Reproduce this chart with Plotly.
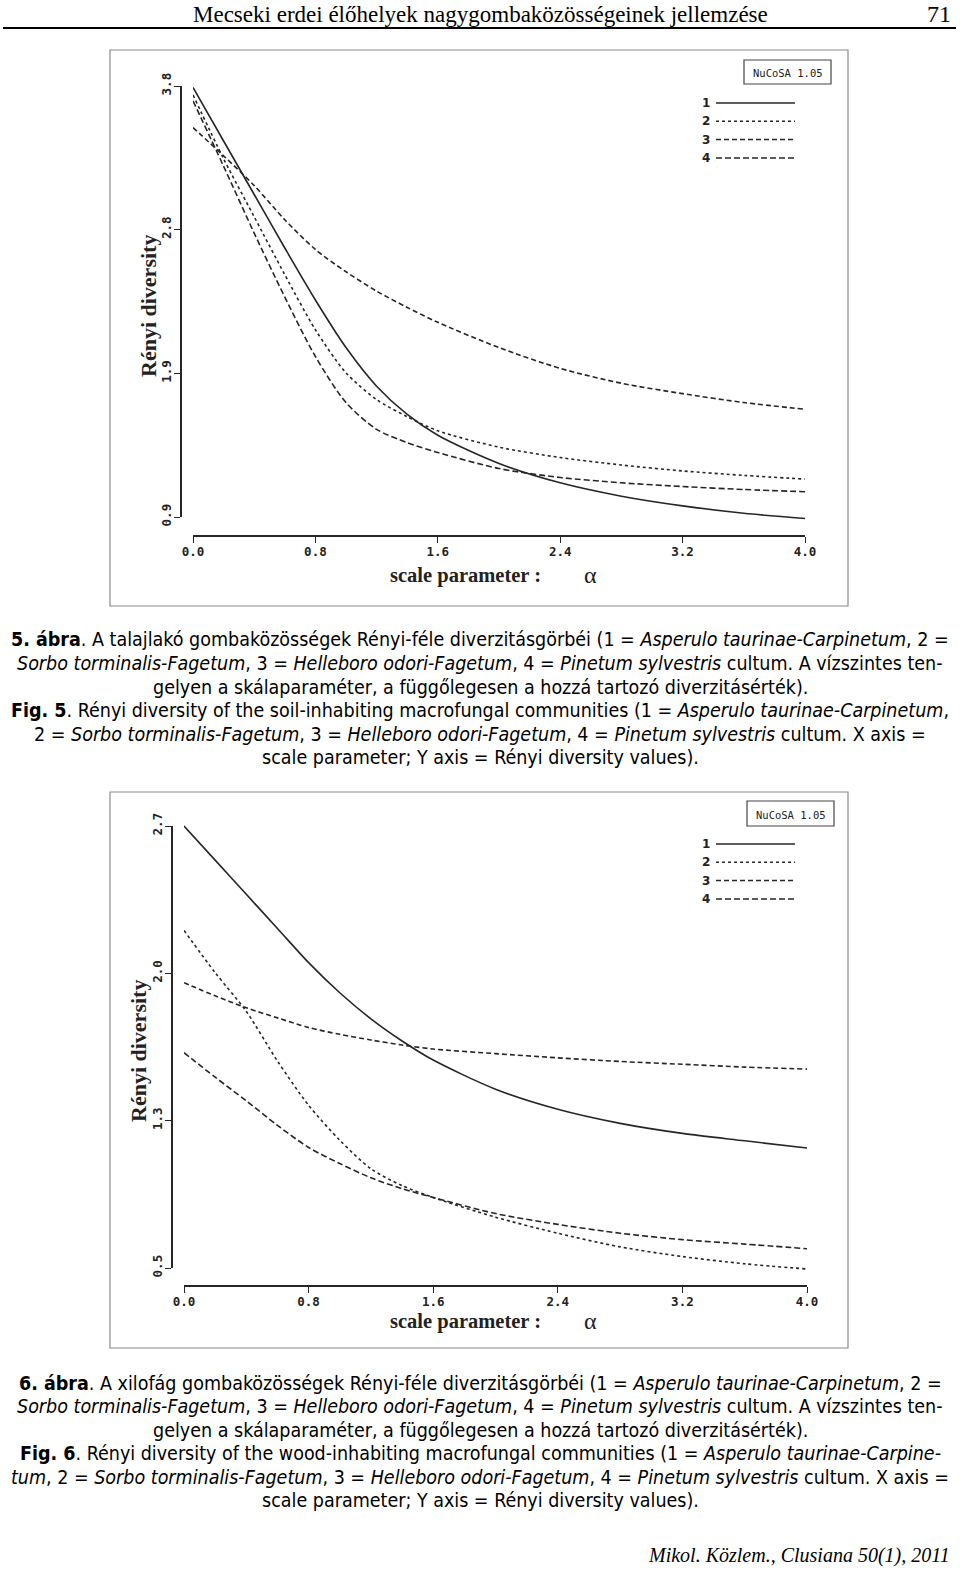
import plotly.graph_objects as go

W, H = 960, 1569

# ---------------- data ----------------
alpha = [0, 0.2, 0.4, 0.6, 0.8, 1.0, 1.2, 1.4, 1.6, 2.0, 2.4, 2.8, 3.2, 3.6, 4.0]

# Fig. 5 (soil-inhabiting)
soil_1 = [3.79, 3.43, 3.07, 2.71, 2.36, 2.04, 1.78, 1.59, 1.45, 1.26, 1.13, 1.04, 0.975, 0.925, 0.89]
soil_2 = [3.74, 3.31, 2.92, 2.53, 2.16, 1.87, 1.69, 1.575, 1.48, 1.37, 1.30, 1.25, 1.21, 1.18, 1.155]
soil_3 = [3.52, 3.33, 3.13, 2.90, 2.70, 2.55, 2.42, 2.31, 2.21, 2.04, 1.90, 1.80, 1.73, 1.67, 1.625]
soil_4 = [3.70, 3.26, 2.81, 2.38, 1.98, 1.67, 1.49, 1.40, 1.334, 1.226, 1.166, 1.13, 1.105, 1.085, 1.07]

# Fig. 6 (wood-inhabiting)
wood_1 = [2.70, 2.53, 2.36, 2.19, 2.02, 1.87, 1.74, 1.63, 1.535, 1.39, 1.29, 1.22, 1.17, 1.133, 1.097]
wood_2 = [2.18, 1.97, 1.777, 1.53, 1.31, 1.136, 0.994, 0.91, 0.851, 0.753, 0.673, 0.605, 0.557, 0.521, 0.495]
wood_3 = [1.92, 1.855, 1.795, 1.745, 1.697, 1.663, 1.635, 1.61, 1.59, 1.567, 1.546, 1.528, 1.514, 1.50, 1.49]
wood_4 = [1.572, 1.45, 1.332, 1.21, 1.10, 1.02, 0.949, 0.895, 0.851, 0.771, 0.717, 0.673, 0.641, 0.619, 0.596]

x_ticks = [0.0, 0.8, 1.6, 2.4, 3.2, 4.0]
x_ticktext = ["0.0", "0.8", "1.6", "2.4", "3.2", "4.0"]
soil_yrange = [0.9, 3.8]
soil_yticktext = ["0.9", "1.9", "2.8", "3.8"]
wood_yrange = [0.5, 2.7]
wood_yticktext = ["0.5", "1.3", "2.0", "2.7"]
series_names = ["1", "2", "3", "4"]
dashes = ["solid", "dot", "5px,3px", "6px,3px"]

# ---------------- helpers ----------------
def fx(p):
    return p / W

def fy(p):
    return 1 - p / H

LINE = "#262626"
annotations = []
shapes = []

def ann(text, x, y, size, family, xanchor="center", yanchor="middle", angle=0, color="#111"):
    annotations.append(dict(text=text, x=fx(x), y=fy(y), xref="paper", yref="paper",
                            xanchor=xanchor, yanchor=yanchor, showarrow=False,
                            textangle=angle, font=dict(size=size, family=family, color=color)))

fig = go.Figure()

TICKFONT = dict(family="DejaVu Sans Mono", size=12.5, color="#222")

def add_chart(idx, series, yrange, ytext, box, xdom, ypx, xline_y, yline_x, legend_y, nucosa, xtitle_y, ytitle):
    n_vis = 2 * idx + 1
    n_dat = 2 * idx + 2
    vis_x = "x" if n_vis == 1 else f"x{n_vis}"
    vis_y = "y" if n_vis == 1 else f"y{n_vis}"
    dat_x = f"x{n_dat}"
    dat_y = f"y{n_dat}"
    lo, hi = yrange
    top_px, bot_px = ypx
    scale = (bot_px - top_px) / (hi - lo)
    ext = 20
    d_hi = hi + ext / scale
    d_lo = lo - ext / scale
    tv = [lo + k * (hi - lo) / 3 for k in range(4)]

    xa = dict(domain=[fx(xdom[0]), fx(xdom[1])], range=[0, 4], anchor="free",
              position=fy(xline_y), showline=True, linecolor=LINE, linewidth=1.6,
              ticks="outside", ticklen=6, tickwidth=1.4, tickcolor=LINE,
              tickvals=x_ticks, ticktext=[f"<b>{t}</b>" for t in x_ticktext],
              ticklabelstandoff=-2,
              tickfont=TICKFONT, showgrid=False, zeroline=False, fixedrange=True, automargin=False)
    ya = dict(domain=[fy(bot_px), fy(top_px)], range=[lo, hi], anchor="free",
              position=fx(yline_x), showline=True, linecolor=LINE, linewidth=1.6,
              ticks="outside", ticklen=6, tickwidth=1.4, tickcolor=LINE,
              tickvals=tv, ticktext=[f"<b>{t}</b>" for t in ytext], tickangle=-90,
              ticklabelstandoff=-2,
              tickfont=TICKFONT, showgrid=False, zeroline=False, fixedrange=True, automargin=False)
    xd = dict(domain=[fx(xdom[0]), fx(xdom[1])], range=[0, 4], anchor=dat_y, visible=False, automargin=False)
    yd = dict(domain=[fy(bot_px + ext), fy(top_px - ext)], range=[d_lo, d_hi], anchor=dat_x,
              visible=False, automargin=False)
    key = lambda a, n: (a + "axis") if n == 1 else f"{a}axis{n}"
    fig.update_layout({key("x", n_vis): xa, key("y", n_vis): ya,
                       key("x", n_dat): xd, key("y", n_dat): yd})
    fig.add_trace(go.Scatter(x=[], y=[], xaxis=vis_x, yaxis=vis_y, showlegend=False, hoverinfo="skip"))
    for name, vals, dash in zip(series_names, series, dashes):
        fig.add_trace(go.Scatter(x=alpha, y=vals, xaxis=dat_x, yaxis=dat_y, mode="lines",
                                 name=name, showlegend=False,
                                 line=dict(color=LINE, width=1.6, dash=dash, shape="spline", smoothing=0.8)))
    # frame
    shapes.append(dict(type="rect", xref="paper", yref="paper", x0=fx(box[0]), x1=fx(box[2]),
                       y0=fy(box[3]), y1=fy(box[1]), line=dict(color="#8a8a8a", width=1.2)))
    # NuCoSA box
    shapes.append(dict(type="rect", xref="paper", yref="paper", x0=fx(nucosa[0]), x1=fx(nucosa[2]),
                       y0=fy(nucosa[3]), y1=fy(nucosa[1]), line=dict(color="#444", width=1.2)))
    ann("NuCoSA 1.05", (nucosa[0] + nucosa[2]) / 2, (nucosa[1] + nucosa[3]) / 2 + 1, 10.5, "DejaVu Sans Mono", color="#222")
    # legend
    for k, (name, dash) in enumerate(zip(series_names, dashes)):
        yy = legend_y + k * 18.3
        ann(f"<b>{name}</b>", 706, yy, 12, "DejaVu Sans", color="#222")
        shapes.append(dict(type="line", xref="paper", yref="paper", x0=fx(716), x1=fx(795),
                           y0=fy(yy), y1=fy(yy), line=dict(color=LINE, width=1.5, dash=dash)))
    # titles
    ann("<b>scale parameter :  </b>", 553, xtitle_y, 20.5, "Liberation Serif", xanchor="right", color="#222")
    ann("α", 590, xtitle_y, 24, "Liberation Serif", color="#222")
    ann("<b>Rényi diversity</b>", ytitle[0], ytitle[1], 22, "Liberation Serif", angle=-90, color="#222")

add_chart(0, [soil_1, soil_2, soil_3, soil_4], soil_yrange, soil_yticktext,
          box=(110, 50, 848, 606), xdom=(193, 805), ypx=(86, 517), xline_y=536, yline_x=181,
          legend_y=103, nucosa=(744, 60, 831, 84), xtitle_y=575, ytitle=(148, 306))
add_chart(1, [wood_1, wood_2, wood_3, wood_4], wood_yrange, wood_yticktext,
          box=(110, 792, 848, 1348), xdom=(184, 807), ypx=(826, 1268), xline_y=1286, yline_x=172,
          legend_y=844, nucosa=(747, 801, 834, 826), xtitle_y=1321, ytitle=(138, 1051))

# ---------------- page text ----------------
SERIF = "Liberation Serif"
NARROW = "Liberation Sans Narrow, Arial Narrow, DejaVu Sans Condensed, sans-serif"

ann("Mecseki erdei élőhelyek nagygombaközösségeinek jellemzése", 480, 14, 23, SERIF, color="#000")
ann("71", 953, 14, 24, SERIF, xanchor="right", color="#000")
shapes.append(dict(type="line", xref="paper", yref="paper", x0=fx(3), x1=fx(956), y0=fy(28), y1=fy(28),
                   line=dict(color="#000", width=2)))

cap5 = [
    "<b>5. ábra</b>. A talajlakó gombaközösségek Rényi-féle diverzitásgörbéi (1 = <i>Asperulo taurinae-Carpinetum</i>, 2 =",
    "<i>Sorbo torminalis-Fagetum</i>, 3 = <i>Helleboro odori-Fagetum</i>, 4 = <i>Pinetum sylvestris</i> cultum. A vízszintes ten-",
    "gelyen a skálaparaméter, a függőlegesen a hozzá tartozó diverzitásérték).",
    "<b>Fig. 5</b>. Rényi diversity of the soil-inhabiting macrofungal communities (1 = <i>Asperulo taurinae-Carpinetum</i>,",
    "2 = <i>Sorbo torminalis-Fagetum</i>, 3 = <i>Helleboro odori-Fagetum</i>, 4 = <i>Pinetum sylvestris</i> cultum. X axis =",
    "scale parameter; Y axis = Rényi diversity values).",
]
cap6 = [
    "<b>6. ábra</b>. A xilofág gombaközösségek Rényi-féle diverzitásgörbéi (1 = <i>Asperulo taurinae-Carpinetum</i>, 2 =",
    "<i>Sorbo torminalis-Fagetum</i>, 3 = <i>Helleboro odori-Fagetum</i>, 4 = <i>Pinetum sylvestris</i> cultum. A vízszintes ten-",
    "gelyen a skálaparaméter, a függőlegesen a hozzá tartozó diverzitásérték).",
    "<b>Fig. 6</b>. Rényi diversity of the wood-inhabiting macrofungal communities (1 = <i>Asperulo taurinae-Carpine-</i>",
    "<i>tum</i>, 2 = <i>Sorbo torminalis-Fagetum</i>, 3 = <i>Helleboro odori-Fagetum</i>, 4 = <i>Pinetum sylvestris</i> cultum. X axis =",
    "scale parameter; Y axis = Rényi diversity values).",
]
for lines, y0 in ((cap5, 640), (cap6, 1383)):
    for k, t in enumerate(lines):
        ann(t, 480, y0 + k * 23.5, 19.5, NARROW, color="#000")

ann("<i>Mikol. Közlem., Clusiana 50(1), 2011</i>", 952, 1555, 20, SERIF, xanchor="right", color="#000")

fig.update_layout(template="none", width=W, height=H, autosize=False,
                  margin=dict(l=0, r=0, t=0, b=0, pad=0),
                  paper_bgcolor="white", plot_bgcolor="rgba(0,0,0,0)",
                  annotations=annotations, shapes=shapes, showlegend=False)

fig.write_html("out.html", config={"displayModeBar": False})
